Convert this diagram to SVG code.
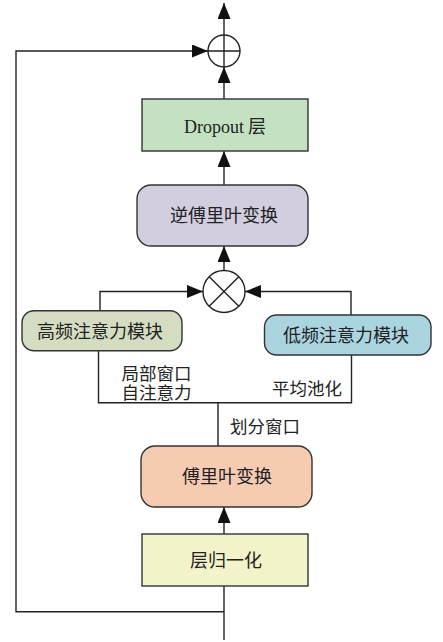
<svg xmlns="http://www.w3.org/2000/svg" width="443" height="642" viewBox="0 0 443 642">
<defs>
<marker id="ah" markerUnits="userSpaceOnUse" markerWidth="17" markerHeight="14" refX="16" refY="6.5" orient="auto">
<path d="M0,0 L16,6.5 L0,13 z" fill="#111"/>
</marker>
<style>
.ln{fill:none;stroke:#222;stroke-width:1.4}
.ar{fill:none;stroke:#222;stroke-width:1.4;marker-end:url(#ah)}
.bx{stroke:#333;stroke-width:1.4}
.t{font-family:"Noto Sans CJK SC","Liberation Serif",serif;font-size:18px;fill:#222;text-anchor:middle}
.tl{font-family:"Noto Sans CJK SC","Liberation Serif",serif;font-size:17.5px;fill:#222}
</style>
</defs>
<rect width="443" height="642" fill="#fff"/>
<g id="connectors">
<path class="ar" d="M224,35 V3"/>
<path class="ar" d="M224,99 V67"/>
<path class="ar" d="M224,185 V151"/>
<path class="ar" d="M224,270.5 V246"/>
<path class="ar" d="M100,311 V291.5 H203"/>
<path class="ar" d="M351,315 V291.5 H245"/>
<path class="ln" d="M98.5,350.7 V402.7 H351.5 V355"/>
<path class="ln" d="M218,402.7 V446"/>
<path class="ar" d="M224,534 V507"/>
<path class="ln" d="M224,640 V586"/>
<path class="ar" d="M224,611.7 H16 V51 H208"/>
</g>
<g id="add">
<circle cx="224" cy="51" r="16" fill="#fff" stroke="#222" stroke-width="1.4"/>
<path class="ln" d="M208,51 H240 M224,35 V67"/>
</g>
<g id="mul">
<circle cx="224" cy="291.5" r="21" fill="#fff" stroke="#222" stroke-width="1.4"/>
<path class="ln" d="M209.2,276.7 L238.8,306.3 M238.8,276.7 L209.2,306.3"/>
</g>
<g id="dropout">
<rect class="bx" x="142" y="99" width="166" height="52" fill="#c4e1c1"/>
<text x="225" y="133" class="t"><tspan font-family="Liberation Serif">Dropout</tspan> 层</text>
</g>
<g id="ifft">
<rect class="bx" x="137" y="185" width="171" height="61" rx="14" fill="#d3cde0"/>
<text x="224" y="222" class="t">逆傅里叶变换</text>
</g>
<g id="high">
<rect class="bx" x="22" y="310.7" width="160" height="40" rx="12" fill="#d4ddc1"/>
<text x="100" y="337.5" class="t">高频注意力模块</text>
</g>
<g id="low">
<rect class="bx" x="264.5" y="315" width="166.5" height="40" rx="12" fill="#a9d4e0"/>
<text x="346" y="341.5" class="t">低频注意力模块</text>
</g>
<g id="labels">
<text x="121.5" y="380" class="tl">局部窗口</text>
<text x="121.5" y="398.5" class="tl">自注意力</text>
<text x="272" y="394.5" class="tl">平均池化</text>
<text x="230" y="432.5" class="tl">划分窗口</text>
</g>
<g id="fft">
<rect class="bx" x="141" y="446" width="171" height="61" rx="14" fill="#f5cbb2"/>
<text x="227" y="482.5" class="t">傅里叶变换</text>
</g>
<g id="norm">
<rect class="bx" x="142" y="534" width="166" height="52" fill="#f3f3c9"/>
<text x="226" y="566.5" class="t">层归一化</text>
</g>
</svg>
